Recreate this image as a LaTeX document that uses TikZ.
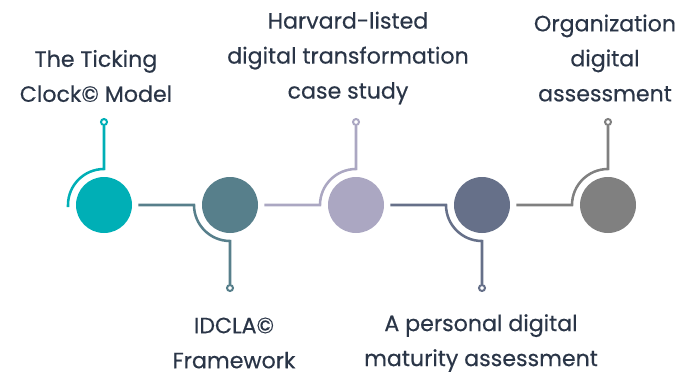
\documentclass[tikz,border=0pt]{standalone}
\usepackage{fontspec}
\setmainfont{Poppins}[FakeBold=0.4]
\usetikzlibrary{calc}

\definecolor{stepA}{HTML}{00AFB6}
\definecolor{stepB}{HTML}{577F8B}
\definecolor{stepC}{HTML}{ABA7C2}
\definecolor{stepD}{HTML}{667089}
\definecolor{stepE}{HTML}{808080}
\definecolor{labeltext}{HTML}{2A3547}

\begin{document}
\begin{tikzpicture}[x=0.75pt,y=0.75pt,
    dot/.style={circle,inner sep=0pt,minimum size=42pt,fill=#1},
    pin/.style={circle,inner sep=0pt,minimum size=4.5pt,draw=#1,fill=white,line width=1.5pt},
    wire/.style={draw=#1,line width=1.9pt},
    caption/.style={align=center,text=labeltext,font=\fontsize{16.6}{26.25}\selectfont}]

  \useasboundingbox (0,-171) rectangle (681,205);

  \node[dot=stepA] (c1) at (104,0) {};
  \node[dot=stepB] (c2) at (230,0) {};
  \node[dot=stepC] (c3) at (356,0) {};
  \node[dot=stepD] (c4) at (482,0) {};
  \node[dot=stepE] (c5) at (608,0) {};

  \node[pin=stepA] (p1) at (104,83) {};
  \node[pin=stepB] (p2) at (230,-83) {};
  \node[pin=stepC] (p3) at (356,83) {};
  \node[pin=stepD] (p4) at (482,-83) {};
  \node[pin=stepE] (p5) at (608,83) {};

  \draw[wire=stepA] ($(c1)+(-36,-2)$) -- ($(c1)+(-36,0)$) arc (180:90:36) -- (p1.south);
  \draw[wire=stepB] ([xshift=4.5pt]c1.east) -- ($(c2)+(-36,0)$) arc (180:270:36) -- (p2.north);
  \draw[wire=stepC] ([xshift=4.5pt]c2.east) -- ($(c3)+(-36,0)$) arc (180:90:36) -- (p3.south);
  \draw[wire=stepD] ([xshift=4.5pt]c3.east) -- ($(c4)+(-36,0)$) arc (180:270:36) -- (p4.north);
  \draw[wire=stepE] ([xshift=4.5pt]c4.east) -- ($(c5)+(-36,0)$) arc (180:90:36) -- (p5.south);

  \node[caption] (t1) at (96,129) {The Ticking\\Clock© Model};
  \node[caption] (t2) at (234,-138) {IDCLA©\\Framework};
  \node[caption] (t3) at (348,147) {Harvard-listed\\digital transformation\\case study};
  \node[caption] (t4) at (481,-138) {A personal digital\\maturity assessment};
  \node[caption] (t5) at (605,147) {Organization\\digital\\assessment};

\end{tikzpicture}
\end{document}
